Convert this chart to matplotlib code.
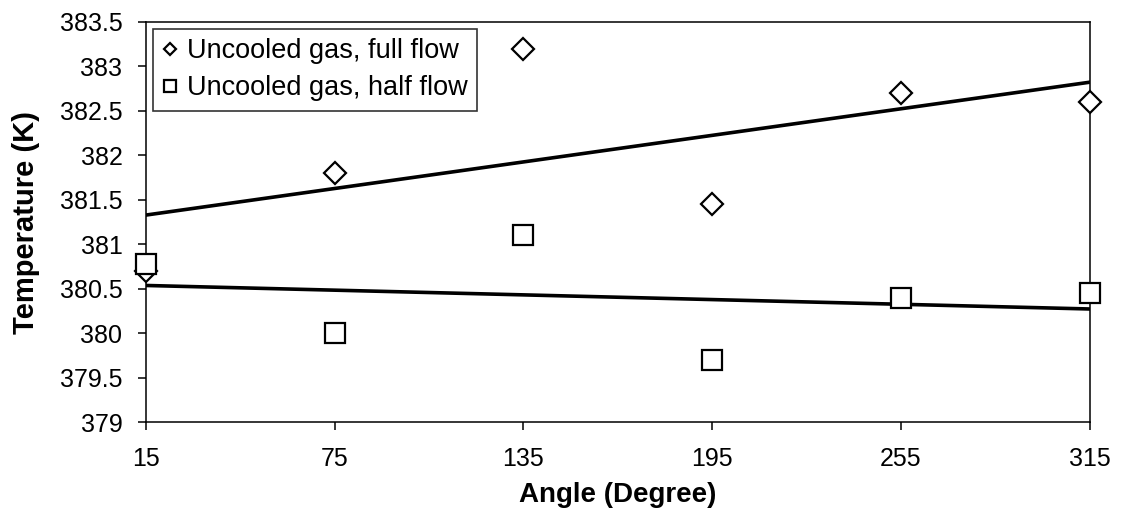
import numpy as np
import matplotlib
matplotlib.use("Agg")
import matplotlib.pyplot as plt

plt.rcParams['font.family'] = ['Liberation Sans', 'DejaVu Sans']

angle = [15, 75, 135, 195, 255, 315]
full_flow = [380.7, 381.8, 383.2, 381.45, 382.7, 382.6]
half_flow = [380.78, 380.0, 381.1, 379.7, 380.4, 380.45]
xticks = [15, 75, 135, 195, 255, 315]
yticks = [379, 379.5, 380, 380.5, 381, 381.5, 382, 382.5, 383, 383.5]

fig = plt.figure(figsize=(11.41, 5.2), dpi=100)
ax = fig.add_axes([0.128, 0.188, 0.827, 0.770])

# linear trend lines through each series
x = np.array(angle, dtype=float)
xs = np.array([x.min(), x.max()])
for y in (full_flow, half_flow):
    k, b = np.polyfit(x, y, 1)
    ax.plot(xs, k * xs + b, color='black', lw=2.6, zorder=2)

ax.plot(angle, full_flow, ls='none', marker='D', ms=11, mfc='white',
        mec='black', mew=1.6, label='Uncooled gas, full flow', zorder=3,
        clip_on=False)
ax.plot(angle, half_flow, ls='none', marker='s', ms=15, mfc='white',
        mec='black', mew=1.6, label='Uncooled gas, half flow', zorder=3,
        clip_on=False)

ax.set_xlim(15, 315)
ax.set_ylim(379, 383.5)
ax.set_xticks(xticks)
ax.set_xticklabels([str(t) for t in xticks])
ax.set_yticks(yticks)
ax.set_yticklabels(['%g' % t for t in yticks])
ax.tick_params(labelsize=18, length=6, width=1.1, color='black')
ax.tick_params(axis='x', pad=12)
ax.tick_params(axis='y', pad=11)
for s in ax.spines.values():
    s.set_linewidth(1.1)

ax.set_xlabel('Angle (Degree)', fontsize=20, fontweight='bold', labelpad=8)
ax.set_ylabel('Temperature (K)', fontsize=21, fontweight='bold', labelpad=14)

leg = ax.legend(loc='upper left', bbox_to_anchor=(0.0, 1.0), fontsize=19.5,
                frameon=True, fancybox=False, handlelength=0.6,
                handletextpad=0.3, borderpad=0.35, labelspacing=0.42,
                borderaxespad=0.25, markerscale=0.6)
leg.get_frame().set_edgecolor('black')
leg.get_frame().set_linewidth(1.2)

fig.savefig('out.png', dpi=100)
